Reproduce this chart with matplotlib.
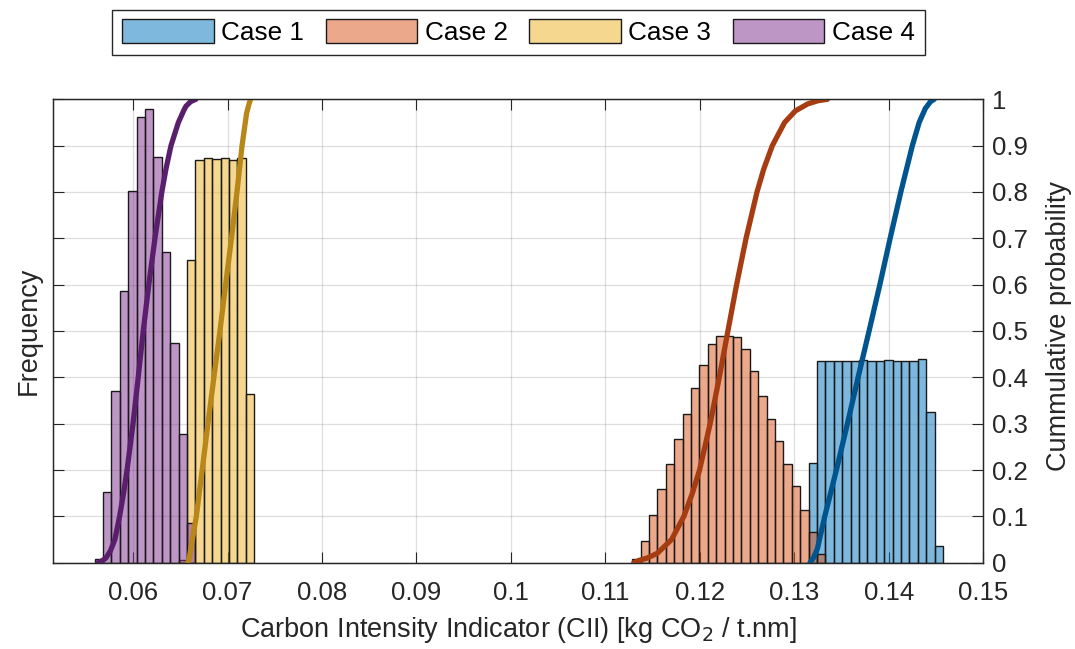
import matplotlib
matplotlib.use('Agg')
import matplotlib.pyplot as plt
from matplotlib.patches import Patch
from matplotlib.ticker import FuncFormatter
import numpy as np

plt.rcParams['font.family'] = ['Liberation Sans', 'DejaVu Sans']

cases = ['Case 1', 'Case 2', 'Case 3', 'Case 4']

# common histogram bins (CII values)
bin_start = 0.05594
bin_width = 0.000889

case1_first_bin = 85
case1_freq = [0.216, 0.435, 0.435, 0.435, 0.435, 0.435, 0.437, 0.435, 0.436,
              0.437, 0.436, 0.436, 0.436, 0.439, 0.326, 0.036]
case2_first_bin = 64
case2_freq = [0.007, 0.047, 0.104, 0.158, 0.214, 0.268, 0.320, 0.377, 0.427,
              0.473, 0.489, 0.489, 0.488, 0.461, 0.414, 0.360, 0.311, 0.262,
              0.212, 0.165, 0.114, 0.067, 0.019]
case3_first_bin = 10
case3_freq = [0.005, 0.653, 0.870, 0.873, 0.871, 0.873, 0.870, 0.874, 0.363]
case4_first_bin = 0
case4_freq = [0.007, 0.152, 0.371, 0.587, 0.803, 0.961, 0.978, 0.876, 0.670,
              0.475, 0.278, 0.086]

# cumulative probability curves
case1_cdf_x = [0.13165, 0.13200, 0.13243, 0.13321, 0.13444, 0.13561, 0.13674,
               0.13790, 0.13904, 0.14013, 0.14126, 0.14248, 0.14320, 0.14385,
               0.14440, 0.14479]
case1_cdf_p = [0.0, 0.01, 0.03, 0.1, 0.2, 0.3, 0.4, 0.5, 0.6, 0.7, 0.8, 0.9,
               0.95, 0.98, 0.995, 1.0]

case2_cdf_x = [0.11300, 0.11355, 0.11440, 0.11547, 0.11700, 0.11830, 0.11920,
               0.11996, 0.12108, 0.12205, 0.12296, 0.12388, 0.12488, 0.12604,
               0.12676, 0.12766, 0.12896, 0.13010, 0.13140, 0.13250, 0.13349]
case2_cdf_p = [0.0, 0.005, 0.01, 0.02, 0.05, 0.1, 0.15, 0.2, 0.3, 0.4, 0.5,
               0.6, 0.7, 0.8, 0.85, 0.9, 0.95, 0.975, 0.99, 0.997, 1.0]

case3_cdf_x = [0.06583, 0.06595, 0.06612, 0.06670, 0.06732, 0.06793, 0.06856,
               0.06920, 0.06980, 0.07042, 0.07100, 0.07154, 0.07202, 0.07228,
               0.07244]
case3_cdf_p = [0.0, 0.01, 0.03, 0.1, 0.2, 0.3, 0.4, 0.5, 0.6, 0.7, 0.8, 0.9,
               0.97, 0.99, 1.0]

case4_cdf_x = [0.05629, 0.05680, 0.05712, 0.05760, 0.05808, 0.05858, 0.05900,
               0.05937, 0.06000, 0.06055, 0.06108, 0.06167, 0.06232, 0.06305,
               0.06349, 0.06402, 0.06480, 0.06535, 0.06560, 0.06610, 0.06665]
case4_cdf_p = [0.0, 0.005, 0.01, 0.025, 0.05, 0.1, 0.15, 0.2, 0.3, 0.4, 0.5,
               0.6, 0.7, 0.8, 0.85, 0.9, 0.95, 0.975, 0.985, 0.995, 1.0]

x_ticks = [0.06, 0.07, 0.08, 0.09, 0.10, 0.11, 0.12, 0.13, 0.14, 0.15]
p_ticks = [0, 0.1, 0.2, 0.3, 0.4, 0.5, 0.6, 0.7, 0.8, 0.9, 1.0]

bar_colors = ['#0072BD', '#D95319', '#EDB120', '#7E2F8E']
line_colors = ['#00558E', '#A63D12', '#B8871A', '#5A1F6C']
TXT = '#262626'

W, H = 1075, 649
fig = plt.figure(figsize=(W / 100, H / 100), dpi=100)
L, R, T, B = 52.7, 983.4, 99.3, 562.7
ax = fig.add_axes([L / W, 1 - B / H, (R - L) / W, (B - T) / H])
ax2 = ax.twinx()

freqs = [case1_freq, case2_freq, case3_freq, case4_freq]
firsts = [case1_first_bin, case2_first_bin, case3_first_bin, case4_first_bin]
for f, k0, c in zip(freqs, firsts, bar_colors):
    lefts = bin_start + bin_width * (k0 + np.arange(len(f)))
    ax.bar(lefts, f, width=bin_width, align='edge',
           facecolor=matplotlib.colors.to_rgba(c, 0.5),
           edgecolor='#1a1a1a', linewidth=1.0, zorder=2)

ax.set_xlim(0.0515, 0.15)
ax.set_ylim(0, 1)
ax.set_xticks(x_ticks)
ax.xaxis.set_major_formatter(FuncFormatter(lambda v, p: f'{v:g}'))
ax.set_yticks(p_ticks)
ax.tick_params(axis='y', labelleft=False, direction='in', length=8,
               color=TXT, width=0.8)
ax.tick_params(axis='x', direction='in', length=8, top=True, color=TXT,
               width=0.8, labelsize=18.5, labelcolor=TXT, pad=13)
ax.grid(True, color=TXT, alpha=0.15, linewidth=0.9)
ax.set_axisbelow(True)

cdf_x = [case1_cdf_x, case2_cdf_x, case3_cdf_x, case4_cdf_x]
cdf_p = [case1_cdf_p, case2_cdf_p, case3_cdf_p, case4_cdf_p]
for xs, ps, c in zip(cdf_x, cdf_p, line_colors):
    ax2.plot(xs, ps, color=c, linewidth=3.8, solid_capstyle='round',
             solid_joinstyle='round')
ax2.set_ylim(0, 1)
ax2.set_yticks(p_ticks)
ax2.yaxis.set_major_formatter(FuncFormatter(lambda v, p: f'{v:g}'))
ax2.tick_params(axis='y', direction='in', length=8, color=TXT, width=0.8,
                labelsize=18.5, labelcolor=TXT, pad=6)

for a in (ax, ax2):
    for s in a.spines.values():
        s.set_color(TXT)
        s.set_linewidth(0.9)

ax.set_xlabel('Carbon Intensity Indicator (CII) [kg CO$_2$ / t.nm]',
              fontsize=19.5, color=TXT)
ax.xaxis.set_label_coords(0.5, -0.112)
ax.set_ylabel('Frequency', fontsize=19.5, color=TXT)
ax.yaxis.set_label_coords(-0.012, 0.5)
ax2.set_ylabel('Cummulative probability', fontsize=19.5, color=TXT)
ax2.yaxis.set_label_coords(1.067, 0.51)

handles = [Patch(facecolor=matplotlib.colors.to_rgba(c, 0.5),
                 edgecolor='#1a1a1a', linewidth=1.0) for c in bar_colors]
leg = fig.legend(handles, cases, loc='upper center',
                 bbox_to_anchor=(518.5 / W, 1 - 9.5 / H), ncol=4,
                 fancybox=False, framealpha=1, edgecolor=TXT,
                 fontsize=18.8, handlelength=3.5, handleheight=1.0,
                 handletextpad=0.3, columnspacing=0.82, borderpad=0.38,
                 borderaxespad=0)
leg.get_frame().set_linewidth(1.0)
for t in leg.get_texts():
    t.set_color('black')

fig.savefig('out.png', dpi=100)
